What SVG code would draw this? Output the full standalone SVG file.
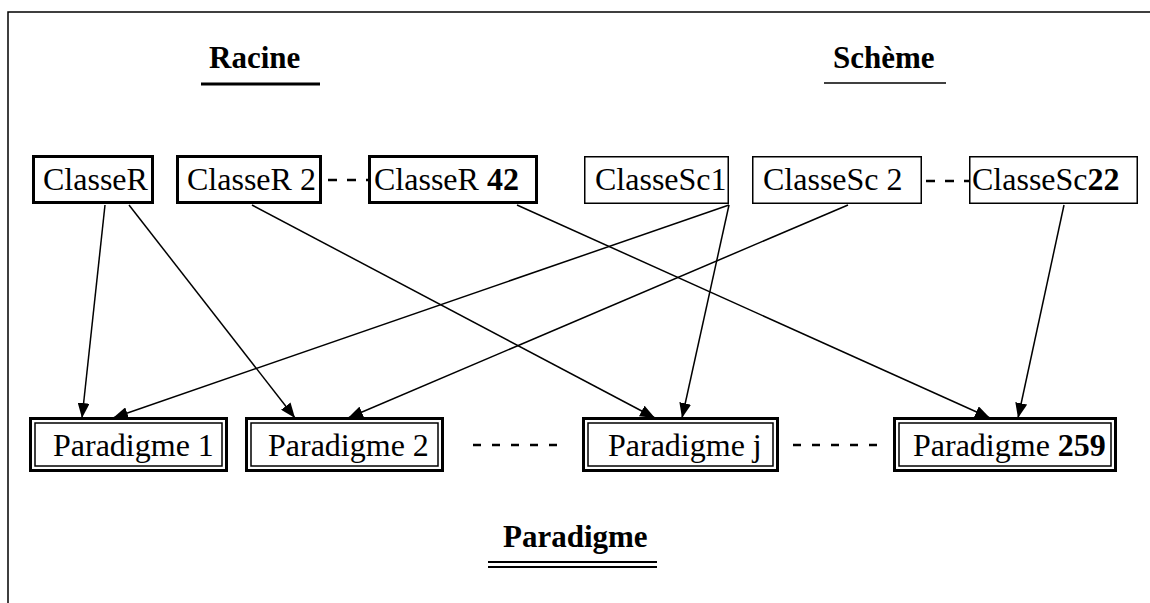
<svg xmlns="http://www.w3.org/2000/svg" width="1150" height="603" viewBox="0 0 1150 603">
<style>
text{font-family:"Liberation Serif","Times New Roman",serif;font-size:32px;fill:#000}
.title{font-weight:bold;font-size:31px}
.b{font-weight:bold}
.thick{fill:#fff;stroke:#000;stroke-width:3}
.thin{fill:#fff;stroke:#000;stroke-width:1.5}
.inner{fill:none;stroke:#000;stroke-width:1.5}
.edge{stroke:#000;stroke-width:1.5;fill:none;marker-end:url(#ah)}
.dash{stroke:#000;stroke-width:2.5}
</style>
<defs>
<marker id="ah" markerUnits="userSpaceOnUse" markerWidth="16" markerHeight="12" refX="15" refY="6" orient="auto">
<path d="M0,0 L15,6 L0,12 Z" fill="#000"/>
</marker>
</defs>
<rect width="1150" height="603" fill="#fff"/>
<path d="M8,603 V12 H1150" fill="none" stroke="#000" stroke-width="1.5"/>
<g id="titles">
<text class="title" x="209" y="68">Racine</text>
<line x1="201" y1="84" x2="320" y2="84" stroke="#000" stroke-width="3"/>
<text class="title" x="833" y="68">Schème</text>
<line x1="824" y1="83" x2="946" y2="83" stroke="#000" stroke-width="1.5"/>
<text class="title" x="503" y="547">Paradigme</text>
<line x1="488" y1="562" x2="657" y2="562" stroke="#000" stroke-width="2"/>
<line x1="488" y1="567" x2="657" y2="567" stroke="#000" stroke-width="2"/>
</g>
<g id="connectors">
<line class="edge" x1="105" y1="205" x2="82" y2="418"/>
<line class="edge" x1="129" y1="205" x2="295" y2="418"/>
<line class="edge" x1="252" y1="205" x2="655" y2="418"/>
<line class="edge" x1="517" y1="205" x2="990" y2="418"/>
<line class="edge" x1="729" y1="205" x2="113" y2="418"/>
<line class="edge" x1="729" y1="205" x2="682" y2="418"/>
<line class="edge" x1="848" y1="205" x2="348" y2="418"/>
<line class="edge" x1="1064" y1="205" x2="1018" y2="418"/>
<line class="dash" x1="328" y1="180" x2="372" y2="180" stroke-dasharray="9 10"/>
<line class="dash" x1="926" y1="181" x2="970" y2="181" stroke-dasharray="9 10"/>
<line class="dash" x1="473" y1="445" x2="557" y2="445" stroke-dasharray="8 11"/>
<line class="dash" x1="793" y1="445" x2="877" y2="445" stroke-dasharray="8 11"/>
</g>
<g id="classeR1"><rect class="thick" x="33.5" y="156.5" width="119" height="46"/><text x="43" y="190">ClasseR</text></g>
<g id="classeR2"><rect class="thick" x="177.5" y="156.5" width="143" height="46"/><text x="187" y="190">ClasseR 2</text></g>
<g id="classeR42"><rect class="thick" x="369.5" y="156.5" width="167" height="46"/><text x="374" y="190">ClasseR <tspan class="b">42</tspan></text></g>
<g id="classeSc1"><rect class="thin" x="584.75" y="156.75" width="143.5" height="46.5"/><text x="595" y="190">ClasseSc1</text></g>
<g id="classeSc2"><rect class="thin" x="752.75" y="156.75" width="168.5" height="46.5"/><text x="763" y="190">ClasseSc 2</text></g>
<g id="classeSc22"><rect class="thin" x="969.75" y="156.75" width="167.5" height="46.5"/><text x="972" y="190">ClasseSc<tspan class="b">22</tspan></text></g>
<g id="paradigme1"><rect class="thick" x="30.5" y="418.5" width="196" height="52"/><rect class="inner" x="35" y="423" width="187" height="43"/><text x="53" y="456">Paradigme 1</text></g>
<g id="paradigme2"><rect class="thick" x="246.5" y="418.5" width="196" height="52"/><rect class="inner" x="251" y="423" width="187" height="43"/><text x="268" y="456">Paradigme 2</text></g>
<g id="paradigmej"><rect class="thick" x="583.5" y="418.5" width="194" height="52"/><rect class="inner" x="588" y="423" width="185" height="43"/><text x="608" y="456">Paradigme j</text></g>
<g id="paradigme259"><rect class="thick" x="894.5" y="418.5" width="221" height="52"/><rect class="inner" x="899" y="423" width="212" height="43"/><text x="913" y="456">Paradigme <tspan class="b">259</tspan></text></g>
</svg>
